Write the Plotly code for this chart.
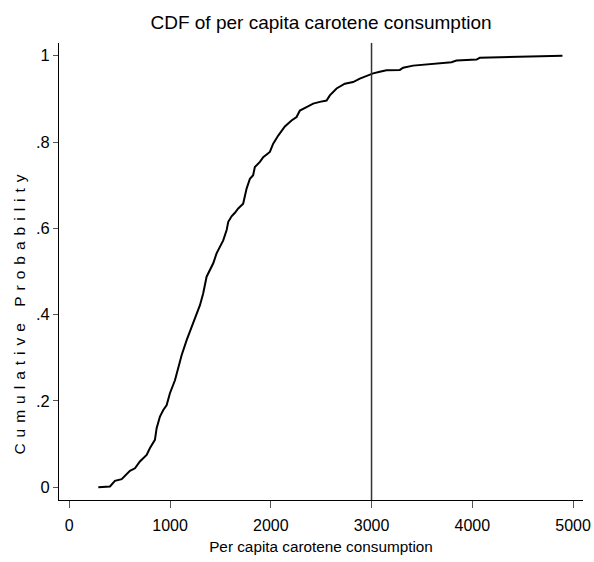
import plotly.graph_objects as go

carotene = [288, 404, 453, 520, 602, 652, 701, 768, 801, 850, 867, 900, 933, 966, 999,
            1049, 1098, 1115, 1165, 1214, 1247, 1297, 1329, 1363, 1429, 1462, 1528, 1562,
            1578, 1611, 1644, 1677, 1726, 1760, 1793, 1825, 1842, 1892, 1925, 1991, 2024,
            2074, 2140, 2206, 2256, 2289, 2355, 2421, 2487, 2554, 2586, 2653, 2735, 2817,
            2884, 2966, 3016, 3082, 3148, 3281, 3314, 3413, 3611, 3794, 3843, 4042, 4074,
            4471, 4895]
cum_prob = [0.0, 0.002, 0.015, 0.019, 0.038, 0.044, 0.060, 0.075, 0.091, 0.110, 0.137,
            0.164, 0.179, 0.190, 0.218, 0.248, 0.291, 0.306, 0.341, 0.372, 0.395, 0.422,
            0.449, 0.488, 0.519, 0.542, 0.572, 0.596, 0.615, 0.628, 0.636, 0.646, 0.657,
            0.692, 0.715, 0.723, 0.742, 0.754, 0.765, 0.777, 0.796, 0.815, 0.836, 0.850,
            0.858, 0.873, 0.881, 0.889, 0.893, 0.896, 0.908, 0.924, 0.935, 0.939, 0.947,
            0.955, 0.959, 0.963, 0.966, 0.967, 0.972, 0.977, 0.981, 0.985, 0.989, 0.991,
            0.995, 0.998, 1.0]
ref_line = 3000
x_ticks = [0, 1000, 2000, 3000, 4000, 5000]
y_ticks = [0, 0.2, 0.4, 0.6, 0.8, 1]
y_ticklabels = ["0", ".2", ".4", ".6", ".8", "1"]

FONT = "Liberation Sans Narrow, Arial Narrow, Liberation Sans, Arial, sans-serif"

fig = go.Figure()
fig.add_trace(go.Scatter(x=carotene, y=cum_prob, mode="lines",
                         line=dict(color="black", width=2), showlegend=False))
fig.add_shape(type="line", x0=ref_line, x1=ref_line, y0=0, y1=1, xref="x", yref="paper",
              line=dict(color="#333333", width=1.5))

fig.update_layout(
    template="none",
    width=594, height=562,
    margin=dict(l=59, r=11, t=43, b=62, autoexpand=False),
    paper_bgcolor="white", plot_bgcolor="white",
    font=dict(family=FONT, color="black", size=16),
    title=dict(text="CDF of per capita carotene consumption", x=0.5, xanchor="center",
               xref="paper", y=1 - 22 / 562, yanchor="middle",
               font=dict(family=FONT, size=19)),
    xaxis=dict(range=[-102, 5099], tickvals=x_ticks, ticks="outside", ticklen=7,
               tickcolor="#555555", showline=True, linecolor="black", linewidth=1,
               showgrid=False, zeroline=False, tickfont=dict(size=16), automargin=False,
               ticklabelstandoff=4,
               title=dict(text="Per capita carotene consumption", font=dict(size=15.3),
                          standoff=8)),
    yaxis=dict(range=[-0.0294, 1.0294], tickvals=y_ticks, ticktext=y_ticklabels,
               ticks="outside", ticklen=5, tickcolor="#555555", showline=True,
               linecolor="black", linewidth=1, showgrid=False, zeroline=False,
               tickfont=dict(size=16.5), automargin=False),
)
fig.add_annotation(text='<span style="letter-spacing:6px">Cumulative Probability</span>',
                   textangle=-90, xref="paper", yref="paper",
                   x=(20 - 59) / 524, y=(500 - 311.5) / 457.3,
                   xanchor="center", yanchor="middle", showarrow=False,
                   font=dict(family=FONT, size=15.5))

fig.write_html("out.html")
